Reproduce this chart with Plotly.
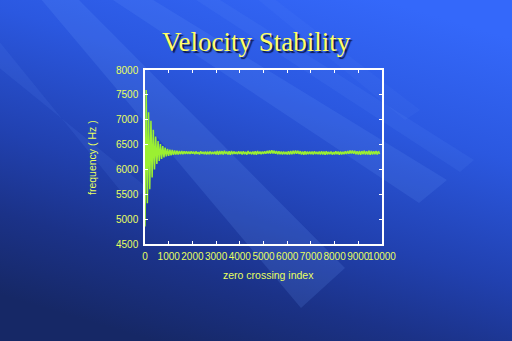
import base64
import plotly.graph_objects as go

W, H = 512, 341

# ---------------- data ----------------
zero_crossing_index = list(range(0, 9901, 50))
frequency_hz = [
    # 0 - 1950 : decaying oscillation
    4850, 7600, 5320, 7150, 5600, 6980, 5840, 6800, 6000, 6660,
    6110, 6570, 6170, 6510, 6210, 6470, 6240, 6440, 6260, 6415,
    6275, 6400, 6285, 6390, 6292, 6382, 6298, 6376, 6302, 6372,
    6306, 6368, 6308, 6365, 6312, 6362, 6314, 6360, 6310, 6362,
    # 2000 - 2950
    6318, 6358, 6305, 6362, 6312, 6350, 6300, 6365, 6315, 6355,
    6308, 6360, 6302, 6348, 6314, 6362, 6306, 6352, 6310, 6358,
    # 3000 - 3950
    6300, 6370, 6296, 6372, 6305, 6368, 6298, 6375, 6310, 6360,
    6302, 6366, 6295, 6370, 6308, 6362, 6312, 6355, 6305, 6364,
    # 4000 - 4950
    6310, 6358, 6300, 6366, 6308, 6356, 6298, 6370, 6312, 6352,
    6304, 6362, 6300, 6368, 6296, 6372, 6310, 6358, 6306, 6360,
    # 5000 - 5950
    6312, 6362, 6316, 6372, 6320, 6380, 6318, 6385, 6322, 6378,
    6314, 6372, 6308, 6366, 6304, 6360, 6300, 6362, 6306, 6356,
    # 6000 - 6950
    6302, 6366, 6298, 6372, 6304, 6376, 6312, 6380, 6316, 6374,
    6310, 6368, 6300, 6360, 6296, 6364, 6302, 6358, 6308, 6362,
    # 7000 - 7950
    6304, 6360, 6300, 6366, 6310, 6354, 6306, 6362, 6298, 6368,
    6302, 6358, 6294, 6364, 6300, 6356, 6306, 6362, 6298, 6352,
    # 8000 - 8950
    6300, 6364, 6304, 6358, 6296, 6362, 6302, 6356, 6306, 6364,
    6310, 6370, 6316, 6378, 6320, 6382, 6314, 6374, 6306, 6366,
    # 9000 - 9900
    6300, 6372, 6296, 6368, 6304, 6374, 6298, 6366, 6302, 6376,
    6296, 6370, 6300, 6364, 6306, 6372, 6298, 6368, 6310,
]
x_tick_values = list(range(0, 10001, 1000))
x_tick_labels = [str(v) for v in x_tick_values]
y_tick_values = list(range(4500, 8001, 500))
y_tick_labels = [str(v) for v in y_tick_values]

title_text = "Velocity Stability"
x_title = "zero crossing index"
y_title = "frequency ( Hz )"

# ---------------- styling ----------------
LABEL = "#E8FF60"
LINE = "#9BF032"

# background: diagonal gradient + soft light diagonal stripes (slide template)
stripes = [
    ([(40, -2), (77, -2), (345, 268), (301, 308)], 0.16),
    ([(-2, 40), (-2, 67), (150, 190), (128, 200)], 0.10),
    ([(110, -2), (150, -2), (447, 180), (419, 203)], 0.14),
    ([(193, -2), (217, -2), (474, 160), (460, 172)], 0.10),
    ([(256, -2), (273, -2), (420, 110), (405, 120)], 0.07),
]
svg = [f"<svg xmlns='http://www.w3.org/2000/svg' width='{W}' height='{H}' "
       f"viewBox='0 0 {W} {H}' preserveAspectRatio='none'>",
       "<defs><linearGradient id='g' x1='0.75' y1='0' x2='0.3' y2='1'>",
       "<stop offset='0' stop-color='rgb(52,104,250)'/>",
       "<stop offset='0.3' stop-color='rgb(43,88,224)'/>",
       "<stop offset='0.6' stop-color='rgb(33,65,176)'/>",
       "<stop offset='0.8' stop-color='rgb(27,50,136)'/>",
       "<stop offset='1' stop-color='rgb(22,40,102)'/>",
       "</linearGradient></defs>",
       f"<rect x='0' y='0' width='{W}' height='{H}' fill='url(#g)'/>"]
for pts, op in stripes:
    p = " ".join(f"{x},{y}" for x, y in pts)
    svg.append(f"<polygon points='{p}' fill='rgb(110,160,255)' "
               f"fill-opacity='{op}'/>")
svg.append("</svg>")
bg_src = "data:image/svg+xml;base64," + base64.b64encode(
    "".join(svg).encode()).decode()

fig = go.Figure()
fig.add_trace(go.Scatter(x=zero_crossing_index, y=frequency_hz, mode="lines",
                         line=dict(color=LINE, width=1.5), hoverinfo="skip"))

axis_common = dict(showgrid=False, zeroline=False, showline=True,
                   linecolor="white", linewidth=1.5, mirror="allticks",
                   ticks="inside", ticklen=3, tickwidth=1, tickcolor="white",
                   tickfont=dict(family="Liberation Sans, Arial", size=10,
                                 color=LABEL))

fig.update_layout(
    width=W, height=H, margin=dict(l=0, r=0, t=0, b=0, autoexpand=False),
    paper_bgcolor="#223f9c", plot_bgcolor="rgba(0,0,0,0)",
    showlegend=False,
    images=[dict(source=bg_src, xref="paper", yref="paper", x=0, y=1,
                 sizex=1, sizey=1, xanchor="left", yanchor="top",
                 sizing="stretch", layer="below")],
    xaxis=dict(domain=[145 / W, 382 / W], range=[0, 10000],
               tickmode="array", tickvals=x_tick_values, ticktext=x_tick_labels,
               tickangle=0, ticklabelstandoff=2, automargin=False,
               **axis_common),
    yaxis=dict(domain=[1 - 244 / H, 1 - 70 / H], range=[4500, 8000],
               tickmode="array", tickvals=y_tick_values, ticktext=y_tick_labels,
               ticklabelstandoff=3, automargin=False, **axis_common),
    annotations=[
        dict(text=title_text, x=256 / W, y=1 - 42 / H, xref="paper",
             yref="paper", showarrow=False, xanchor="center", yanchor="middle",
             font=dict(family="Liberation Serif, Times New Roman", size=27,
                       color="#FFFF66", shadow="2px 2px 1px #0b1850")),
        dict(text=x_title, x=268 / W, y=1 - 275 / H, xref="paper",
             yref="paper", showarrow=False, xanchor="center", yanchor="middle",
             font=dict(family="Liberation Sans, Arial", size=10.5, color=LABEL)),
        dict(text=y_title, x=92 / W, y=1 - 158 / H, xref="paper",
             yref="paper", showarrow=False, xanchor="center", yanchor="middle",
             textangle=-90,
             font=dict(family="Liberation Sans, Arial", size=10.5, color=LABEL)),
    ],
)

fig.write_html(
    "out.html",
    config={"displayModeBar": False},
    post_script="document.body.style.margin='0';"
                "document.body.style.overflow='hidden';",
)
